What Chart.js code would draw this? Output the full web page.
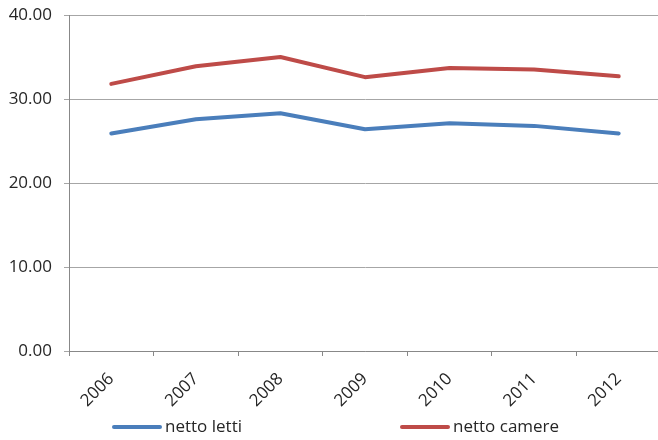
<!DOCTYPE html>
<html>
<head>
<meta charset="utf-8">
<script src="https://cdn.jsdelivr.net/npm/chart.js@4/dist/chart.umd.min.js"></script>
<style>
	html, body { margin: 0; padding: 0; background: #fff; overflow: hidden; }
	#wrap { width: 661px; height: 440px; }
</style>
</head>
<body>
<div id="wrap"><canvas id="chart" width="661" height="440"></canvas></div>
<script>
const years = ['2006', '2007', '2008', '2009', '2010', '2011', '2012'];
const nettoLetti = [25.9, 27.6, 28.3, 26.4, 27.1, 26.8, 25.9];
const nettoCamere = [31.8, 33.9, 35.0, 32.6, 33.7, 33.5, 32.7];
const yTicks = [0, 10, 20, 30, 40];

const fontFamily = '"Open Sans", sans-serif';
const textColor = '#262626';

// legend drawn by hand so the two entries sit where Excel puts them
const legendX = [112, 400];
const bottomLegend = {
	id: 'bottomLegend',
	afterDraw(chart) {
		const ctx = chart.ctx;
		const y = 427;
		ctx.save();
		chart.data.datasets.forEach((ds, i) => {
			const x = legendX[i];
			ctx.strokeStyle = ds.borderColor;
			ctx.lineWidth = 4;
			ctx.lineCap = 'round';
			ctx.beginPath();
			ctx.moveTo(x + 2, y);
			ctx.lineTo(x + 48, y);
			ctx.stroke();
			ctx.fillStyle = textColor;
			ctx.font = '17px ' + fontFamily;
			ctx.textBaseline = 'middle';
			ctx.textAlign = 'left';
			ctx.fillText(ds.label, x + 53, y);
		});
		ctx.restore();
	}
};

new Chart(document.getElementById('chart'), {
	type: 'line',
	data: {
		labels: years,
		datasets: [{
			label: 'netto letti',
			data: nettoLetti,
			borderColor: '#4A7EBB',
			borderWidth: 4,
		}, {
			label: 'netto camere',
			data: nettoCamere,
			borderColor: '#BE4B48',
			borderWidth: 4,
		}]
	},
	options: {
		responsive: false,
		animation: false,
		layout: { padding: { top: 15, right: 0, bottom: 0, left: 0 } },
		elements: {
			line: { tension: 0, borderJoinStyle: 'round', borderCapStyle: 'round', fill: false },
			point: { radius: 0 },
		},
		plugins: {
			legend: { display: false },
			tooltip: { enabled: false },
		},
		scales: {
			x: {
				offset: true,
				afterFit: s => { s.height = 89; },
				grid: {
					offset: true,
					drawOnChartArea: false,
					drawTicks: true,
					tickLength: 5,
					color: '#888',
				},
				border: { color: '#888' },
				ticks: {
					minRotation: 45,
					maxRotation: 45,
					padding: 13,
					color: textColor,
					font: { family: fontFamily, size: 17 },
				},
			},
			y: {
				min: 0,
				max: 40,
				afterFit: s => {
					s.width = 69;
					s.paddingTop = 0;
					s.paddingBottom = 0;
				},
				afterBuildTicks: s => { s.ticks = yTicks.map(v => ({ value: v })); },
				grid: {
					color: '#a6a6a6',
					tickLength: 5,
				},
				border: { color: '#888' },
				ticks: {
					padding: 12,
					color: textColor,
					font: { family: fontFamily, size: 17 },
					callback: value => Number(value).toFixed(2),
				},
			}
		}
	},
	plugins: [bottomLegend],
});
</script>
</body>
</html>
